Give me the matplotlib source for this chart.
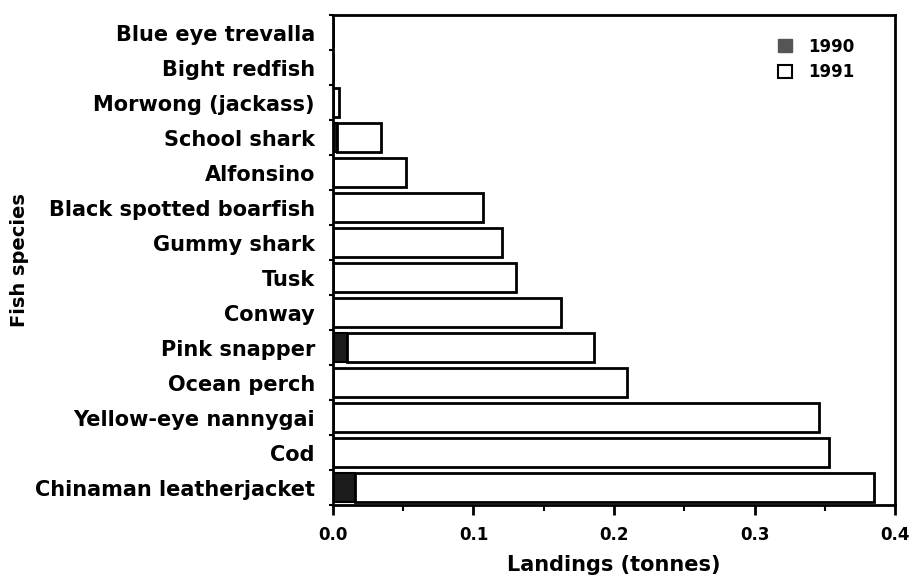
import numpy as np
import matplotlib
matplotlib.use("Agg")
import matplotlib.pyplot as plt
from matplotlib.ticker import MultipleLocator
from matplotlib.patches import Patch

### Landings by species, bottom to top
species = ["Chinaman leatherjacket", "Cod", "Yellow-eye nannygai", "Ocean perch",
           "Pink snapper", "Conway", "Tusk", "Gummy shark", "Black spotted boarfish",
           "Alfonsino", "School shark", "Morwong (jackass)", "Bight redfish",
           "Blue eye trevalla"]
landings_1990 = [0.016, 0.0, 0.0, 0.0, 0.010, 0.0, 0.0, 0.0, 0.0, 0.0, 0.003, 0.0, 0.0, 0.0]
landings_1991 = [0.369, 0.353, 0.346, 0.209, 0.176, 0.162, 0.130, 0.120, 0.107, 0.052,
                 0.031, 0.004, 0.0, 0.0]
xticks = [0.0, 0.1, 0.2, 0.3, 0.4]

plt.rcParams["font.family"] = "DejaVu Sans"
plt.rcParams["font.weight"] = "bold"

fig = plt.figure(figsize=(9.13, 5.79), dpi=100)
ax = fig.add_axes([0.3647, 0.1278, 0.6156, 0.846])

y = np.arange(len(species))
ax.barh(y, landings_1990, height=0.84, color="#1c1c1c", edgecolor="black", linewidth=1.5)
ax.barh(y, landings_1991, left=landings_1990, height=0.84, color="white",
        edgecolor="black", linewidth=2.0)

ax.set_xlim(0, 0.4)
ax.set_ylim(-0.5, len(species) - 0.5)
ax.set_xticks(xticks)
ax.set_xticklabels(["%.1f" % v for v in xticks])
ax.xaxis.set_minor_locator(MultipleLocator(0.05))
ax.set_yticks(y)
ax.set_yticklabels(species)
ax.set_yticks(np.arange(-0.5, len(species), 1.0), minor=True)

ax.tick_params(axis="x", which="major", direction="out", length=7, width=2, labelsize=12, pad=8)
ax.tick_params(axis="x", which="minor", direction="out", length=4, width=1.5)
ax.tick_params(axis="y", which="major", length=0, labelsize=15, pad=13)
ax.tick_params(axis="y", which="minor", direction="out", length=3, width=1.5)
for s in ax.spines.values():
    s.set_linewidth(2)

ax.set_xlabel("Landings (tonnes)", fontsize=15, fontweight="bold", labelpad=8)
ax.set_ylabel("Fish species", fontsize=14, fontweight="bold")
ax.yaxis.set_label_coords(-0.54, 0.5)

handles = [Patch(facecolor="#555555", edgecolor="#555555"),
           Patch(facecolor="white", edgecolor="black", linewidth=1.5)]
ax.legend(handles, ["1990", "1991"], loc="upper right", bbox_to_anchor=(0.955, 0.985),
          frameon=False, fontsize=12, handlelength=0.8, handleheight=0.8,
          handletextpad=1.0, labelspacing=0.45)

fig.savefig("out.png", dpi=100)
